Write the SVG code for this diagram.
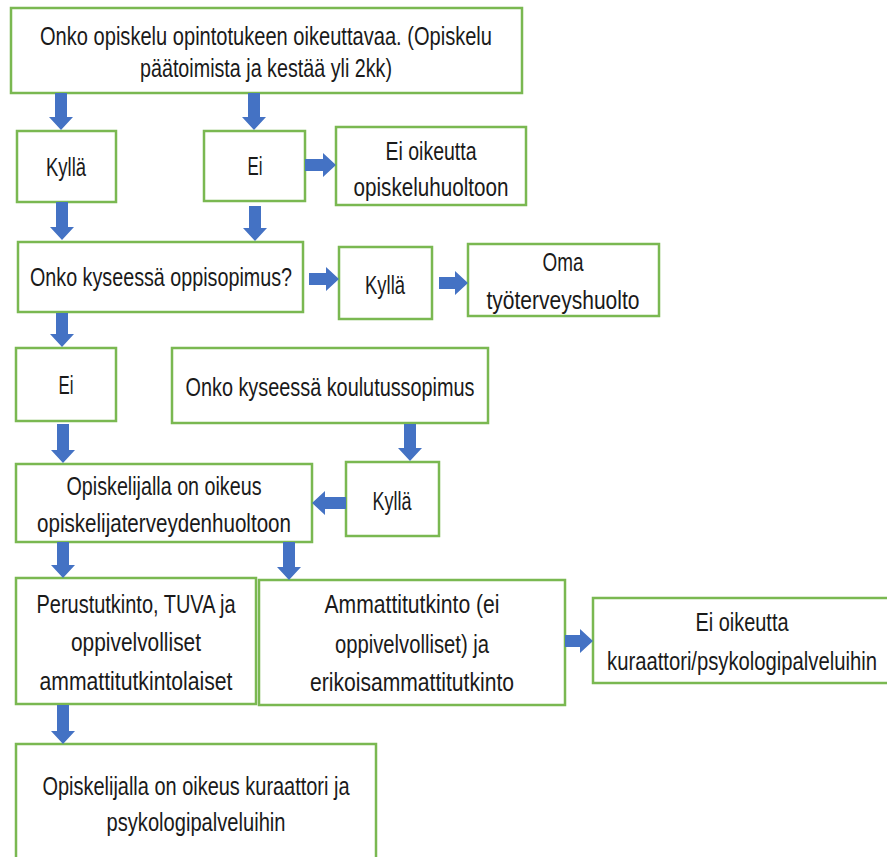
<svg xmlns="http://www.w3.org/2000/svg" width="887" height="857" viewBox="0 0 887 857">
<style>
.box{fill:#fff;stroke:#7ab851;stroke-width:2.5}
.t{font-family:"Liberation Sans","DejaVu Sans",sans-serif;font-size:25px;fill:#1a1a1a;text-anchor:middle}
.arr{fill:#4472c4}
</style>
<rect width="887" height="857" fill="#fff"/>
<g id="n-top"><rect class="box" x="11" y="8" width="511" height="85"/>
<text class="t" x="266" y="45" textLength="452" lengthAdjust="spacingAndGlyphs">Onko opiskelu opintotukeen oikeuttavaa. (Opiskelu</text>
<text class="t" x="266" y="77" textLength="252" lengthAdjust="spacingAndGlyphs">päätoimista ja kestää yli 2kk)</text></g>
<g id="n-kylla1"><rect class="box" x="17" y="131" width="99" height="71"/>
<text class="t" x="66" y="176" textLength="40" lengthAdjust="spacingAndGlyphs">Kyllä</text></g>
<g id="n-ei1"><rect class="box" x="204" y="131" width="101" height="70"/>
<text class="t" x="255" y="175" textLength="15" lengthAdjust="spacingAndGlyphs">Ei</text></g>
<g id="n-eioik1"><rect class="box" x="336" y="127" width="190" height="78"/>
<text class="t" x="431" y="160" textLength="91" lengthAdjust="spacingAndGlyphs">Ei oikeutta</text>
<text class="t" x="431" y="196" textLength="155" lengthAdjust="spacingAndGlyphs">opiskeluhuoltoon</text></g>
<g id="n-oppisopimus"><rect class="box" x="18" y="242" width="285" height="70"/>
<text class="t" x="161" y="286" textLength="262" lengthAdjust="spacingAndGlyphs">Onko kyseessä oppisopimus?</text></g>
<g id="n-kylla2"><rect class="box" x="339" y="247" width="93" height="72"/>
<text class="t" x="385" y="294" textLength="40" lengthAdjust="spacingAndGlyphs">Kyllä</text></g>
<g id="n-oma"><rect class="box" x="468" y="244" width="191" height="72"/>
<text class="t" x="563" y="271" textLength="41" lengthAdjust="spacingAndGlyphs">Oma</text>
<text class="t" x="563" y="309" textLength="153" lengthAdjust="spacingAndGlyphs">työterveyshuolto</text></g>
<g id="n-ei2"><rect class="box" x="16" y="348" width="100" height="73"/>
<text class="t" x="66" y="394" textLength="15" lengthAdjust="spacingAndGlyphs">Ei</text></g>
<g id="n-koulutus"><rect class="box" x="172" y="348" width="316" height="75"/>
<text class="t" x="330" y="396" textLength="289" lengthAdjust="spacingAndGlyphs">Onko kyseessä koulutussopimus</text></g>
<g id="n-opiskelija"><rect class="box" x="16" y="464" width="296" height="78"/>
<text class="t" x="164" y="495" textLength="195" lengthAdjust="spacingAndGlyphs">Opiskelijalla on oikeus</text>
<text class="t" x="164" y="532" textLength="254" lengthAdjust="spacingAndGlyphs">opiskelijaterveydenhuoltoon</text></g>
<g id="n-kylla3"><rect class="box" x="346" y="462" width="93" height="74"/>
<text class="t" x="392" y="510" textLength="39" lengthAdjust="spacingAndGlyphs">Kyllä</text></g>
<g id="n-perus"><rect class="box" x="16" y="578" width="240" height="126"/>
<text class="t" x="136" y="613" textLength="199" lengthAdjust="spacingAndGlyphs">Perustutkinto, TUVA ja</text>
<text class="t" x="136" y="651" textLength="130" lengthAdjust="spacingAndGlyphs">oppivelvolliset</text>
<text class="t" x="136" y="690" textLength="193" lengthAdjust="spacingAndGlyphs">ammattitutkintolaiset</text></g>
<g id="n-ammatti"><rect class="box" x="259" y="580" width="306" height="125"/>
<text class="t" x="412" y="613" textLength="175" lengthAdjust="spacingAndGlyphs">Ammattitutkinto (ei</text>
<text class="t" x="412" y="653" textLength="154" lengthAdjust="spacingAndGlyphs">oppivelvolliset) ja</text>
<text class="t" x="412" y="691" textLength="204" lengthAdjust="spacingAndGlyphs">erikoisammattitutkinto</text></g>
<g id="n-eioik2"><rect class="box" x="593" y="598" width="300" height="85"/>
<text class="t" x="742" y="631" textLength="93" lengthAdjust="spacingAndGlyphs">Ei oikeutta</text>
<text class="t" transform="translate(742 670) scale(0.81 1)">kuraattori/psykologipalveluihin</text></g>
<g id="n-final"><rect class="box" x="16" y="744" width="360" height="125"/>
<text class="t" x="196" y="795" textLength="307" lengthAdjust="spacingAndGlyphs">Opiskelijalla on oikeus kuraattori ja</text>
<text class="t" x="196" y="831" textLength="179" lengthAdjust="spacingAndGlyphs">psykologipalveluihin</text></g>
<g id="connectors" class="arr">
<path d="M55 93 H67 V117 H73 L61 130 L49 117 H55 Z"/>
<path d="M248 93 H260 V117 H266 L254 130 L242 117 H248 Z"/>
<path d="M56 202 H68 V227 H74 L62 240 L50 227 H56 Z"/>
<path d="M249 206 H261 V228 H267 L255 241 L243 228 H249 Z"/>
<path d="M56 313 H68 V334 H74 L62 347 L50 334 H56 Z"/>
<path d="M57 424 H69 V450 H75 L63 463 L51 450 H57 Z"/>
<path d="M404 424 H416 V448 H422 L410 461 L398 448 H404 Z"/>
<path d="M57 542 H69 V565 H75 L63 578 L51 565 H57 Z"/>
<path d="M283 542 H295 V567 H301 L289 580 L277 567 H283 Z"/>
<path d="M57 705 H69 V731 H75 L63 744 L51 731 H57 Z"/>
<path d="M305 159 V171 H323 V177 L336 165 L323 153 V159 Z"/>
<path d="M309 273 V285 H326 V291 L339 279 L326 267 V273 Z"/>
<path d="M439 277 V289 H455 V295 L468 283 L455 271 V277 Z"/>
<path d="M565 635 V647 H580 V653 L593 641 L580 629 V635 Z"/>
<path d="M346 497 V509 H325 V515 L312 503 L325 491 V497 Z"/>
</g>
</svg>
